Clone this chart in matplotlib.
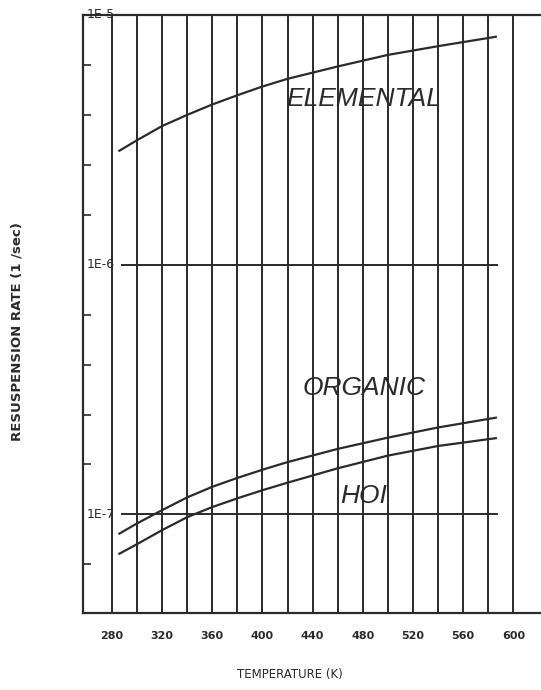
import matplotlib
matplotlib.use("Agg")
import matplotlib.pyplot as plt
from matplotlib.ticker import NullFormatter, FixedLocator

# values (temperature in K, rate in 1/sec)
temp = [286, 300, 320, 340, 360, 380, 400, 420, 460, 500, 540, 586]
elemental = [2.86e-6, 3.15e-6, 3.59e-6, 3.98e-6, 4.38e-6, 4.77e-6,
             5.17e-6, 5.55e-6, 6.22e-6, 6.92e-6, 7.5e-6, 8.18e-6]
organic = [8.38e-8, 9.2e-8, 1.04e-7, 1.17e-7, 1.29e-7, 1.40e-7,
           1.51e-7, 1.62e-7, 1.83e-7, 2.03e-7, 2.23e-7, 2.44e-7]
hoi = [6.96e-8, 7.6e-8, 8.65e-8, 9.75e-8, 1.07e-7, 1.16e-7,
       1.25e-7, 1.34e-7, 1.53e-7, 1.72e-7, 1.88e-7, 2.02e-7]

xticks = [280, 320, 360, 400, 440, 480, 520, 560, 600]
xgrid = list(range(280, 601, 20))
decades = [1e-7, 1e-6]
decade_labels = ["1E-7", "1E-6", "1E-5"]
minor_y = [10 ** (e / 10) for e in (-72, -68, -66, -64, -62, -58, -56, -54, -52)]

ink = "#2a2a2a"
narrow = ["Liberation Sans Narrow", "DejaVu Sans"]

fig = plt.figure(figsize=(5.41, 6.90), dpi=100)
ax = fig.add_axes([0.1534, 0.1116, 0.8466, 0.8667])

ax.set_yscale("log")
ax.set_xlim(257, 622)
ax.set_ylim(4.03e-8, 1e-5)

ax.plot(temp, elemental, color=ink, lw=1.6)
ax.plot(temp, organic, color=ink, lw=1.6)
ax.plot(temp, hoi, color=ink, lw=1.6)

# vertical grid every 20 K, horizontal lines at the decades
for t in xgrid:
    ax.axvline(t, color=ink, lw=1.4)
ax.hlines(decades, 287, 588, color=ink, lw=1.4)

for spine in ["left", "bottom", "top"]:
    ax.spines[spine].set_linewidth(1.6)
    ax.spines[spine].set_color(ink)
ax.spines["right"].set_visible(False)

ax.set_xticks(xticks)
ax.set_xticklabels([str(t) for t in xticks], fontsize=8, fontweight="bold",
                   family=narrow, color=ink)
ax.tick_params(axis="x", length=0, pad=13)

ax.yaxis.set_major_locator(FixedLocator([]))
ax.yaxis.set_minor_locator(FixedLocator(minor_y))
ax.yaxis.set_minor_formatter(NullFormatter())
ax.tick_params(axis="y", which="minor", direction="in", length=6, width=1.2,
               color=ink)

for val, lab in zip(decades + [1e-5], decade_labels):
    ax.text(0.007, val, lab, transform=ax.get_yaxis_transform(),
            ha="left", va="center", fontsize=9, family=narrow, color=ink)

ax.text(481, 4.6e-6, "ELEMENTAL", ha="center", va="center", fontsize=19,
        style="italic", family=["Liberation Sans", "DejaVu Sans"], color=ink)
ax.text(481, 3.22e-7, "ORGANIC", ha="center", va="center", fontsize=19,
        style="italic", family=["Liberation Sans", "DejaVu Sans"], color=ink)
ax.text(481, 1.18e-7, "HOI", ha="center", va="center", fontsize=19,
        style="italic", family=["Liberation Sans", "DejaVu Sans"], color=ink)

fig.text(0.536, 0.022, "TEMPERATURE (K)", ha="center", va="center",
         fontsize=8.5, family=narrow, color=ink)
fig.text(0.031, 0.519, "RESUSPENSION RATE (1 /sec)", ha="center", va="center",
         rotation=90, fontsize=9.5, fontweight="bold", color=ink)

fig.savefig("out.png", dpi=100)
